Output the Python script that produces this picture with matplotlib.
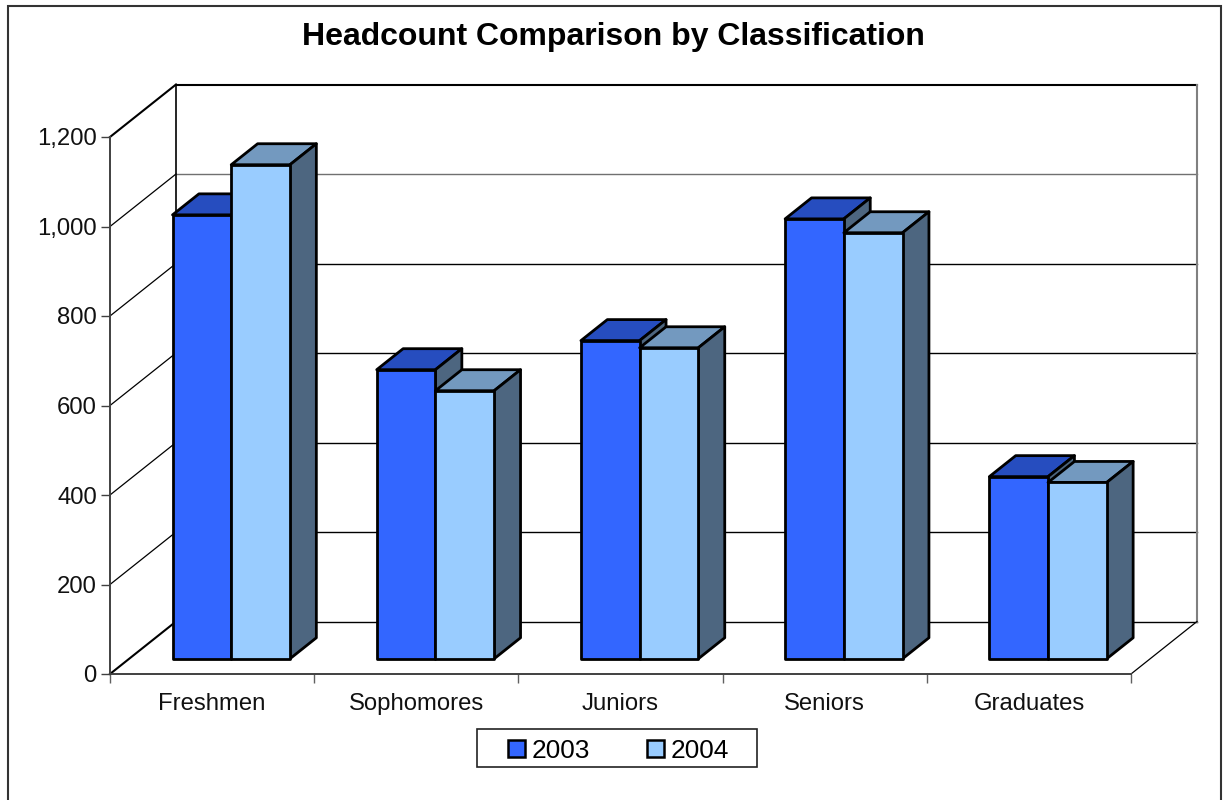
"""Recreates the pseudo-3D headcount comparison column chart."""

import matplotlib

matplotlib.use("Agg")
import matplotlib.pyplot as plt
from matplotlib.patches import Patch, Polygon, Rectangle

plt.rcParams["font.family"] = ["Liberation Sans", "DejaVu Sans"]

categories = ["Freshmen", "Sophomores", "Juniors", "Seniors", "Graduates"]
headcount_2003 = [992, 646, 711, 983, 407]
headcount_2004 = [1104, 599, 695, 952, 394]
y_ticks = [0, 200, 400, 600, 800, 1000, 1200]
year_labels = ["2003", "2004"]

FIG_W, FIG_H = 1226, 800
LEFT, RIGHT, TOP, BOTTOM = 110, 1131, 137, 674
PX_X = 5 / (RIGHT - LEFT)
PX_Y = 1200 / (BOTTOM - TOP)

# Depth of the fake 3D box, in data units per unit of depth
DEPTH_X = 66 * PX_X
DEPTH_Y = 52.5 * PX_Y
BAR_W = 58.7 * PX_X
BAR_FRONT = 0.29
BAR_BACK = 0.69

FRONT_COLORS = ["#3366FF", "#99CCFF"]
TOP_COLORS = ["#264DBF", "#7399BF"]
SIDE_COLOR = "#4D6680"


def project(x, y, depth):
    return x + depth * DEPTH_X, y + depth * DEPTH_Y


def face(ax, corners, color, zorder):
    pts = [project(*c) for c in corners]
    ax.add_patch(
        Polygon(pts, closed=True, facecolor=color, edgecolor="black", lw=2.0,
                joinstyle="round", clip_on=False, zorder=zorder)
    )


def draw_bar(ax, x0, value, idx, zorder):
    x1 = x0 + BAR_W
    f, b = BAR_FRONT, BAR_BACK
    face(ax, [(x0, value, f), (x1, value, f), (x1, value, b), (x0, value, b)], TOP_COLORS[idx], zorder)
    face(ax, [(x1, 0, f), (x1, value, f), (x1, value, b), (x1, 0, b)], SIDE_COLOR, zorder)
    face(ax, [(x0, 0, f), (x1, 0, f), (x1, value, f), (x0, value, f)], FRONT_COLORS[idx], zorder)


fig = plt.figure(figsize=(FIG_W / 100, FIG_H / 100), dpi=100, facecolor="white")

# Outer chart border, runs off the bottom of the picture
fig.add_artist(
    Rectangle((8 / FIG_W, -0.02), (1221 - 8) / FIG_W, 1.02 - 6 / FIG_H,
              transform=fig.transFigure, fill=False, edgecolor="#333333", lw=1.5)
)

ax = fig.add_axes([LEFT / FIG_W, 1 - BOTTOM / FIG_H, (RIGHT - LEFT) / FIG_W, (BOTTOM - TOP) / FIG_H])
ax.set_xlim(0, 5)
ax.set_ylim(0, 1200)
ax.patch.set_visible(False)

# Walls and gridlines
for tick in y_ticks:
    x_back, y_back = project(5, tick, 1)
    x_wall, y_wall = project(0, tick, 1)
    is_edge = tick in (0, 1200)
    ax.plot([0, x_wall], [tick, y_wall], color="black", lw=1.5 if is_edge else 0.9,
            clip_on=False, zorder=1)
    ax.plot([x_wall, x_back], [y_wall, y_back], color="#707070" if tick == 1000 else "black",
            lw=1.5 if tick == 1200 else 1.0, clip_on=False, zorder=1)

wall_left = project(0, 0, 1)
wall_left_top = project(0, 1200, 1)
wall_right = project(5, 0, 1)
wall_right_top = project(5, 1200, 1)
ax.plot([wall_left[0], wall_left_top[0]], [wall_left[1], wall_left_top[1]], color="black", lw=1.2, clip_on=False, zorder=1)
ax.plot([wall_right[0], wall_right_top[0]], [wall_right[1], wall_right_top[1]], color="#808080", lw=1.5, clip_on=False, zorder=1)
ax.plot([5, wall_right[0]], [0, wall_right[1]], color="black", lw=0.9, clip_on=False, zorder=1)

# Columns
for i in range(len(categories)):
    start = i + 0.5 - BAR_W
    draw_bar(ax, start, headcount_2003[i], 0, 3 + 2 * i)
    draw_bar(ax, start + BAR_W, headcount_2004[i], 1, 4 + 2 * i)

# Axes
for side in ("top", "right"):
    ax.spines[side].set_visible(False)
for side in ("left", "bottom"):
    ax.spines[side].set_color("#404040")
    ax.spines[side].set_linewidth(1.4)
    ax.spines[side].set_zorder(2)

ax.set_yticks(y_ticks)
ax.set_yticklabels([f"{t:,}" for t in y_ticks], fontsize=17.2, color="#111111")
ax.tick_params(axis="y", length=6.5, width=1.0, color="#404040", pad=3)
ax.set_xticks(range(len(categories) + 1))
ax.set_xticklabels([])
ax.set_xticks([i + 0.5 for i in range(len(categories))], labels=categories, minor=True)
ax.tick_params(axis="x", which="major", length=6.5, width=1.0, color="#606060")
ax.tick_params(axis="x", which="minor", length=0, labelsize=17.2, labelcolor="#111111", pad=14)

fig.text(613 / FIG_W, 1 - 36.5 / FIG_H, "Headcount Comparison by Classification",
         fontsize=23, fontweight="bold", ha="center", va="center")

# Legend box is drawn separately since its padding differs per side
fig.add_artist(
    Rectangle((477 / FIG_W, 1 - 767 / FIG_H), 280 / FIG_W, 38 / FIG_H,
              transform=fig.transFigure, facecolor="white", edgecolor="#222222", lw=1.2)
)
handles = [Patch(facecolor=c, edgecolor="black", lw=1.8) for c in FRONT_COLORS]
fig.legend(handles, year_labels, loc="center", bbox_to_anchor=(618.5 / FIG_W, 1 - 750.5 / FIG_H),
           ncol=2, frameon=False, fontsize=18.9, handlelength=0.65, handleheight=0.65,
           handletextpad=0.25, columnspacing=2.2, borderpad=0, borderaxespad=0)

fig.savefig("out.png", dpi=100)
